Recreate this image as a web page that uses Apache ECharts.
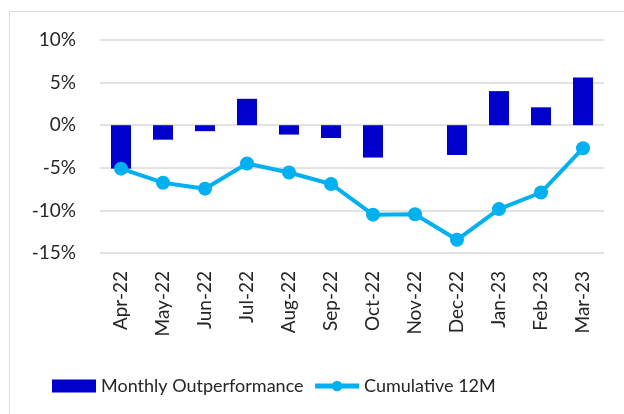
<!DOCTYPE html>
<html>
<head>
<meta charset="utf-8">
<script src="https://cdn.jsdelivr.net/npm/echarts@6/dist/echarts.min.js"></script>
<style>
body{margin:0;background:#fff;}
#main{width:624px;height:414px;}
</style>
</head>
<body>
<div id="main"></div>
<script>
// months on the x axis
var months = ['Apr-22','May-22','Jun-22','Jul-22','Aug-22','Sep-22','Oct-22','Nov-22','Dec-22','Jan-23','Feb-23','Mar-23'];
// monthly outperformance, %
var monthly = [-5.1, -1.7, -0.7, 3.1, -1.1, -1.5, -3.8, 0, -3.5, 4.0, 2.1, 5.6];
// cumulative 12M, %
var cumulative = [-5.1, -6.75, -7.45, -4.5, -5.55, -6.9, -10.5, -10.45, -13.45, -9.85, -7.9, -2.7];

var font = 'Lato';
var myChart = echarts.init(document.getElementById('main'));
var option = {
  animation: false,
  graphic: [{
    type: 'rect',
    shape: {x: 9.5, y: 11.5, width: 700, height: 500},
    style: {fill: 'none', stroke: '#d9d9d9', lineWidth: 1}
  }],
  grid: {left: 100, right: 20, top: 40, bottom: 161},
  legend: {
    left: 47, top: 372,
    itemGap: 9,
    itemWidth: 44, itemHeight: 13,
    textStyle: {fontFamily: font, fontSize: 18, color: '#262626'},
    data: [
      {name: 'Monthly Outperformance', icon: 'rect'},
      {name: 'Cumulative 12M', lineStyle: {width: 5}}
    ]
  },
  xAxis: {
    type: 'category',
    data: months,
    axisLine: {show: false},
    axisTick: {show: false},
    axisLabel: {rotate: 90, margin: 18, fontFamily: font, fontSize: 19, color: '#262626', interval: 0}
  },
  yAxis: {
    type: 'value',
    min: -15, max: 10, interval: 5,
    axisLabel: {formatter: function (v) { return v + '%'; }, margin: 24, fontFamily: font, fontSize: 19, color: '#262626'},
    splitLine: {lineStyle: {color: '#d9d9d9', width: 1.5}}
  },
  series: [{
    name: 'Monthly Outperformance',
    type: 'bar',
    data: monthly,
    barWidth: 20,
    itemStyle: {color: '#0000cc'}
  }, {
    name: 'Cumulative 12M',
    type: 'line',
    data: cumulative,
    symbol: 'circle',
    symbolSize: 14,
    lineStyle: {color: '#00b0f0', width: 4},
    itemStyle: {color: '#00b0f0'}
  }]
};
myChart.setOption(option);
</script>
</body>
</html>
